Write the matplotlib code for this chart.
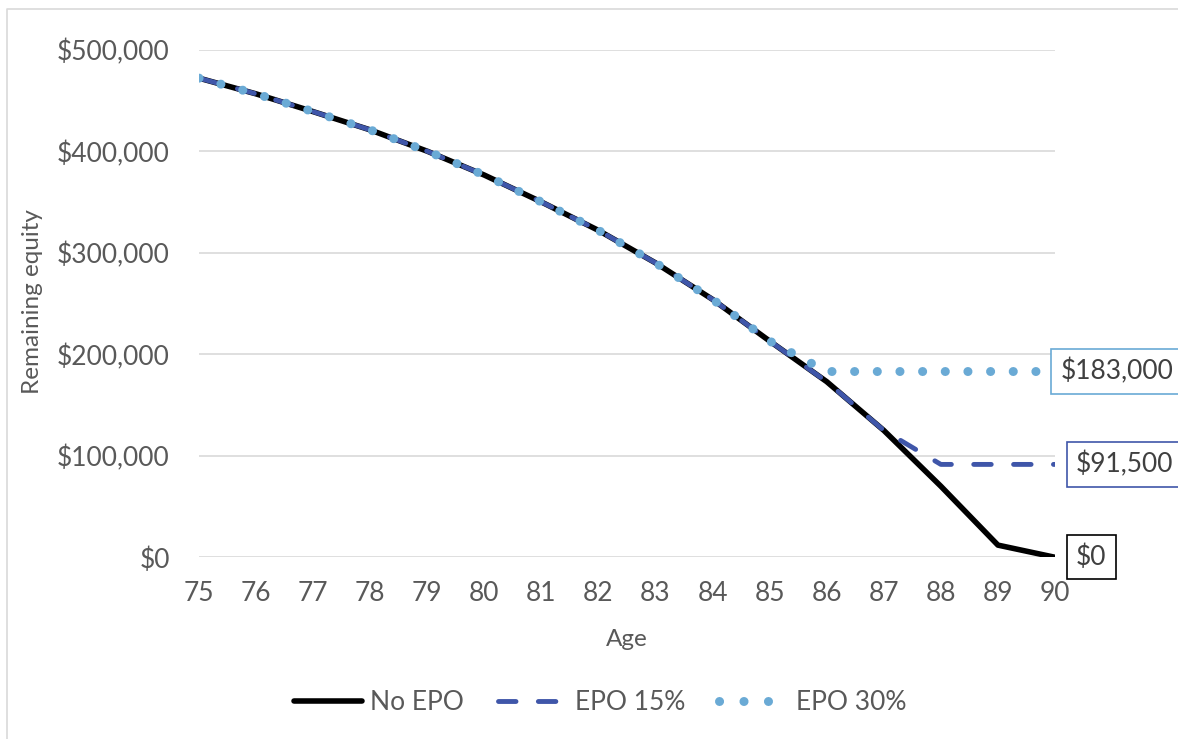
import matplotlib
matplotlib.use("Agg")
import matplotlib.pyplot as plt
from matplotlib.lines import Line2D
from matplotlib.ticker import FuncFormatter

# ---- data ----
ages = [75, 76, 77, 78, 79, 80, 81, 82, 83, 84, 85, 86, 87, 88, 89, 90]
no_epo = [472000, 456500, 439000, 421000, 400000, 376500, 350000, 322000,
          290000, 254000, 213000, 173000, 125000, 70000, 12000, 0]
epo_15 = [472000, 456500, 439000, 421000, 400000, 376500, 350000, 322000,
          290000, 254000, 213000, 173000, 125000, 91500, 91500, 91500]
epo_30 = [472000, 456500, 439000, 421000, 400000, 376500, 350000, 322000,
          290000, 254000, 213000, 183000, 183000, 183000, 183000, 183000]
end_labels = ["$0", "$91,500", "$183,000"]

C_BLACK = "#000000"
C_DARK = "#3F56A9"
C_LIGHT = "#6AAAD5"
C_TEXT = "#595959"
C_GRID = "#D9D9D9"

plt.rcParams["font.family"] = ["Lato", "DejaVu Sans"]

W, H = 1178, 739
fig = plt.figure(figsize=(W / 100, H / 100), dpi=100)

# plot area in pixels
x0, x1 = 199, 1055
y0, y1 = 49.7, 557.3
ax = fig.add_axes([x0 / W, 1 - y1 / H, (x1 - x0) / W, (y1 - y0) / H])

ax.plot(ages, no_epo, color=C_BLACK, lw=4.0, solid_capstyle="round",
        label="No EPO", zorder=3)
ax.plot(ages, epo_15, color=C_DARK, lw=3.5, linestyle=(0, (3.6, 4.6)),
        dash_capstyle="round", label="EPO 15%", zorder=4)
ax.plot(ages, epo_30, color=C_LIGHT, lw=6.5, linestyle=(0, (0.01, 2.5)),
        dash_capstyle="round", label="EPO 30%", zorder=5)

ax.set_xlim(75, 90)
ax.set_ylim(0, 500000)
ax.set_xticks(ages)
ax.set_yticks(range(0, 500001, 100000))
ax.yaxis.set_major_formatter(FuncFormatter(lambda v, p: "${:,.0f}".format(v)))
ax.tick_params(axis="both", length=0, labelsize=19, colors=C_TEXT)
ax.tick_params(axis="y", pad=21)
ax.tick_params(axis="x", pad=17)
ax.grid(True, axis="y", color=C_GRID, lw=1.2)
ax.set_axisbelow(True)
for s in ax.spines.values():
    s.set_visible(False)

ax.set_xlabel("Age", fontsize=17.5, color=C_TEXT)
ax.xaxis.set_label_coords(627 / W, 1 - 640 / H, transform=fig.transFigure)
ax.set_ylabel("Remaining equity", fontsize=17.5, color=C_TEXT)
ax.yaxis.set_label_coords(33 / W, 1 - 302 / H, transform=fig.transFigure)
ax.xaxis.label.set_va("center")
ax.yaxis.label.set_va("center")

# end-of-line labels in boxes
box_cols = [C_BLACK, C_DARK, C_LIGHT]
ends = [no_epo[-1], epo_15[-1], epo_30[-1]]
offs = [15, 15, 4]
for lab, val, col, dx in zip(end_labels, ends, box_cols, offs):
    ax.annotate(lab, xy=(ages[-1], val), xytext=(dx, 0),
                textcoords="offset points", ha="left", va="center",
                fontsize=19, color="#404040", annotation_clip=False,
                bbox=dict(boxstyle="square,pad=0.35", fc="white",
                          ec=col, lw=1.2))

# legend handles (dotted one with a slightly wider step so three dots show)
leg_handles = [
    Line2D([], [], color=C_BLACK, lw=4.0, solid_capstyle="round"),
    Line2D([], [], color=C_DARK, lw=3.5, linestyle=(0, (3.6, 4.6)),
           dash_capstyle="round"),
    Line2D([], [], color=C_LIGHT, lw=6.5, linestyle=(0, (0.01, 2.7)),
           dash_capstyle="round"),
]
labels = [h.get_label() for h in ax.get_lines()]
fig.legend(leg_handles, labels, loc="center", bbox_to_anchor=(600 / W, 1 - 703 / H),
           ncol=3, frameon=False, fontsize=19, handlelength=2.6,
           handletextpad=0.3, columnspacing=1.3, labelcolor=C_TEXT)

# outer chart border (left and top edges visible in the crop)
fig.add_artist(Line2D([7 / W, 7 / W, 1.0], [0.0, 1 - 9 / H, 1 - 9 / H],
                      transform=fig.transFigure, color=C_GRID, lw=1.2))

fig.savefig("out.png", dpi=100)
